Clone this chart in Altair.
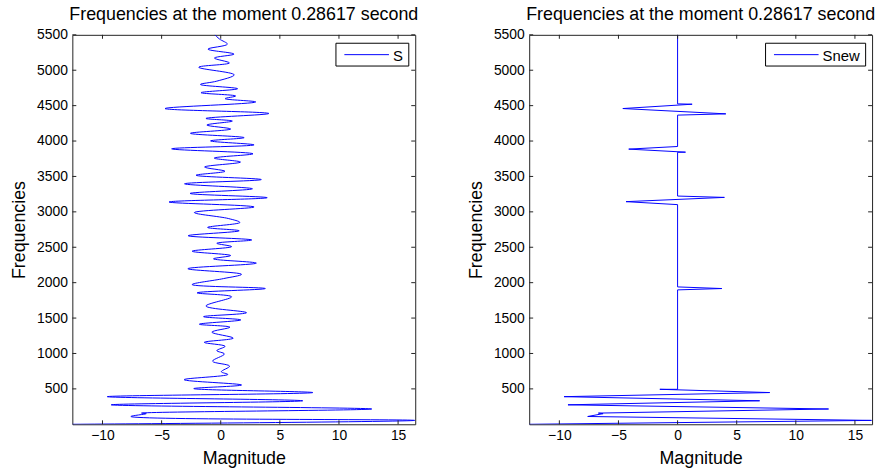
import altair as alt
import pandas as pd

# ---- data (magnitude vs frequency) ----
S_freq = [5500, 5440, 5368, 5298, 5228, 5172, 5103, 5042, 4935, 4846, 4799, 4739, 4683, 4636,
          4599, 4552, 4459, 4389, 4319, 4282, 4226, 4170, 4109, 4048, 4002, 3946, 3890, 3820,
          3759, 3703, 3633, 3573, 3517, 3456, 3396, 3326, 3260, 3200, 3139, 3069, 2990, 2906,
          2850, 2780, 2733, 2663, 2603, 2556, 2509, 2444, 2383, 2337, 2276, 2197, 2118, 2057,
          1973, 1917, 1856, 1800, 1670, 1576, 1520, 1474, 1413, 1371, 1301, 1217, 1157, 1101,
          1040, 993, 891, 821, 742, 704, 630, 555, 504, 448, 390, 332, 275, 216, 158, 150,
          110, 55, 0]
S_mag = [-0.5, -0.1, 0.56, -1.08, 1.12, -0.53, 0.73, -1.86, 1.14, -0.33, -1.72, 1.43, -1.67, 1.26,
         0.37, 2.96, -4.71, 4.07, -1.25, 0.98, -1.17, 0.84, -2.56, 1.98, -0.86, 2.82, -4.15, 2.73,
         -0.55, 1.67, -1.36, 0.36, -2.09, 3.43, -3.06, 2.68, -2.59, 3.93, -4.37, 2.82, -2.23, 0.64,
         1.62, -1.11, 1.56, -2.76, 2.62, -0.33, 0.92, -2.42, 0.84, -0.61, 3.01, -2.78, 1.76, 0.22,
         -2.42, 3.77, -2.0, 0.92, -1.25, 2.18, -1.45, 1.70, -1.81, 0.78, -0.75, 1.06, -1.39, 0.37,
         -0.33, 0.31, -0.69, 0.75, 0.05, 0.6, -3.1, 1.76, -2.28, 7.79, -9.6, 6.94, -9.27, 12.77,
         -6.7, -6.3, -7.6, 16.4, -12.55]

Snew_freq = [5500, 4525, 4520, 4459, 4384, 4366, 3923, 3886, 3843, 3841, 3223, 3204, 3144, 3102,
             1940, 1917, 1898, 494, 494, 448, 390, 332, 275, 216, 158, 150, 110, 55, 0]
Snew_mag = [0, 0, 1.23, -4.63, 4.08, 0, 0, -4.13, 0.67, 0, 0, 3.96, -4.36, 0,
            0, 3.74, 0, 0, -1.5, 7.79, -9.6, 6.94, -9.27, 12.77, -6.7, -6.3, -7.6, 16.4, -12.55]

X_TICKS = [-10, -5, 0, 5, 10, 15]
Y_TICKS = [500, 1000, 1500, 2000, 2500, 3000, 3500, 4000, 4500, 5000, 5500]
X_DOMAIN = [-12.55, 16.45]
Y_DOMAIN = [0, 5500]
TITLE = "Frequencies at the moment 0.28617 second"

W, H = 346, 393
FONT = "Liberation Sans"
TICK_LEN = 4
FRAME = "#222222"
LINE_COLOR = "#0000ff"

xscale = alt.Scale(domain=X_DOMAIN, nice=False, zero=False)
yscale = alt.Scale(domain=Y_DOMAIN, nice=False, zero=False)
xaxis = alt.Axis(values=X_TICKS, title="Magnitude", ticks=False, domain=False, grid=False,
                 labelPadding=4, titlePadding=8, labelFlush=False, labelOverlap=False, format="d")
yaxis = alt.Axis(values=Y_TICKS, title="Frequencies", ticks=False, domain=False, grid=False,
                 labelPadding=5, titlePadding=8, labelFlush=False, labelOverlap=False, format="d")

xt = pd.DataFrame({"mag": X_TICKS})
yt = pd.DataFrame({"freq": Y_TICKS})


def panel(freq, mag, name, box_w, interp):
    df = pd.DataFrame({"freq": freq, "mag": mag, "i": range(len(freq))})
    line = alt.Chart(df).mark_line(strokeWidth=1, interpolate=interp, clip=True,
                                   color=LINE_COLOR).encode(
        x=alt.X("mag:Q", scale=xscale, axis=xaxis),
        y=alt.Y("freq:Q", scale=yscale, axis=yaxis),
        order=alt.Order("i:Q"),
    )
    yl = alt.Chart(yt).mark_rule(color=FRAME, strokeWidth=1).encode(
        y=alt.Y("freq:Q", scale=yscale, axis=yaxis), x=alt.value(0), x2=alt.value(TICK_LEN))
    yr = alt.Chart(yt).mark_rule(color=FRAME, strokeWidth=1).encode(
        y=alt.Y("freq:Q", scale=yscale, axis=yaxis), x=alt.value(W - TICK_LEN), x2=alt.value(W))
    xb = alt.Chart(xt).mark_rule(color=FRAME, strokeWidth=1).encode(
        x=alt.X("mag:Q", scale=xscale, axis=xaxis), y=alt.value(H - TICK_LEN), y2=alt.value(H))
    xtp = alt.Chart(xt).mark_rule(color=FRAME, strokeWidth=1).encode(
        x=alt.X("mag:Q", scale=xscale, axis=xaxis), y=alt.value(0), y2=alt.value(TICK_LEN))

    # legend box (top-right, inside the axes like MATLAB)
    leg = pd.DataFrame({"series": [name]})
    bx1 = W - 6.5
    bx0 = bx1 - box_w
    box = alt.Chart(leg).mark_rect(fill="white", stroke="black", strokeWidth=1).encode(
        x=alt.value(bx0), x2=alt.value(bx1), y=alt.value(8.5), y2=alt.value(31.5))
    sample = alt.Chart(leg).mark_rule(color=LINE_COLOR, strokeWidth=1).encode(
        x=alt.value(bx0 + 8.5), x2=alt.value(bx0 + 53.5), y=alt.value(20), y2=alt.value(20))
    label = alt.Chart(leg).mark_text(align="left", baseline="alphabetic", font=FONT, fontSize=15,
                                     color="black").encode(
        x=alt.value(bx0 + 57.5), y=alt.value(26), text="series:N")

    return alt.layer(line, yl, yr, xb, xtp, box, sample, label).properties(
        width=W, height=H,
        title=alt.TitleParams(TITLE, fontSize=18, font=FONT, fontWeight="normal",
                              color="black", anchor="middle", offset=4),
    )


left = panel(S_freq, S_mag, "S", 73.5, "catmull-rom")
right = panel(Snew_freq, Snew_mag, "Snew", 101, "linear")

chart = alt.hconcat(left, right, spacing=48).properties(
    padding={"left": 10, "top": 3, "right": 5, "bottom": 0},
    background="white",
).configure_view(
    stroke=FRAME, strokeWidth=1
).configure_axis(
    labelFont=FONT, labelFontSize=14, labelColor="black",
    titleFont=FONT, titleFontSize=18, titleFontWeight="normal", titleColor="black",
)

chart.save("out.html", embed_options={"renderer": "svg", "actions": False})
